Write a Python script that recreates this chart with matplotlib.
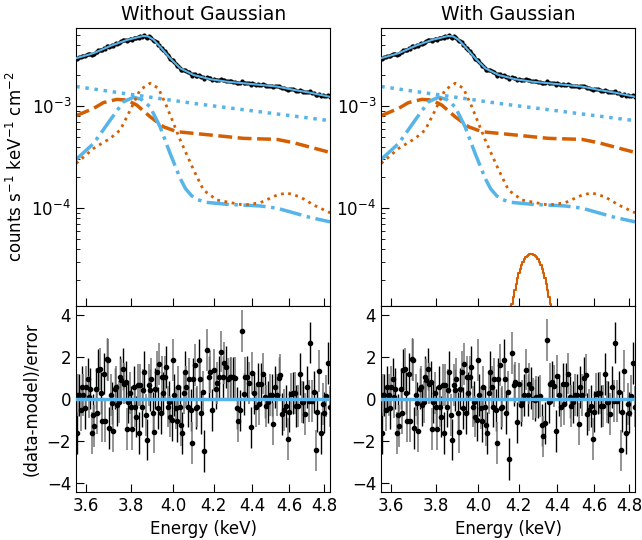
import numpy as np
import matplotlib.pyplot as plt
from matplotlib.ticker import FixedLocator, NullLocator, FormatStrFormatter

plt.rcParams['font.size'] = 12

# model components, energy in keV, flux in counts s^-1 keV^-1 cm^-2
tot_e = [3.558, 3.634, 3.707, 3.782, 3.858, 3.880, 3.906, 3.937, 3.985, 4.034,
         4.100, 4.183, 4.268, 4.355, 4.443, 4.533, 4.625, 4.719, 4.834]
tot_f = [2.94e-3, 3.29e-3, 3.87e-3, 4.43e-3, 4.85e-3, 4.80e-3, 4.45e-3, 3.81e-3,
         2.94e-3, 2.34e-3, 2.01e-3, 1.83e-3, 1.73e-3, 1.67e-3, 1.61e-3, 1.55e-3,
         1.44e-3, 1.35e-3, 1.23e-3]

pl_e = [3.558, 4.100, 4.834]
pl_f = [1.55e-3, 1.06e-3, 7.18e-4]

dash_e = [3.558, 3.634, 3.677, 3.736, 3.782, 3.828, 3.890, 3.953, 4.018, 4.183,
          4.355, 4.533, 4.625, 4.834]
dash_f = [8.04e-4, 9.49e-4, 1.08e-3, 1.16e-3, 1.145e-3, 1.02e-3, 7.85e-4, 6.26e-4,
          5.6e-4, 5.2e-4, 4.82e-4, 4.71e-4, 4.37e-4, 3.51e-4]

dd_e = [3.558, 3.634, 3.707, 3.767, 3.813, 3.850, 3.890, 3.937, 3.985, 4.034,
        4.060, 4.090, 4.120, 4.160, 4.268, 4.443, 4.533, 4.625, 4.719, 4.834]
dd_f = [3.0e-4, 4.31e-4, 7.29e-4, 1.10e-3, 1.22e-3, 1.16e-3, 9.8e-4, 6.26e-4,
        3.43e-4, 1.95e-4, 1.55e-4, 1.32e-4, 1.21e-4, 1.14e-4, 1.09e-4, 1.05e-4,
        1.0e-4, 9.0e-5, 8.1e-5, 7.34e-5]

dot_e = [3.558, 3.634, 3.707, 3.752, 3.798, 3.843, 3.890, 3.929, 3.969, 4.034,
         4.100, 4.149, 4.217, 4.355, 4.443, 4.533, 4.588, 4.662, 4.740, 4.834]
dot_f = [2.74e-4, 3.85e-4, 4.82e-4, 5.82e-4, 9.14e-4, 1.44e-3, 1.67e-3, 1.49e-3,
         9.85e-4, 4.64e-4, 2.36e-4, 1.50e-4, 1.20e-4, 1.07e-4, 1.13e-4, 1.34e-4,
         1.41e-4, 1.29e-4, 1.07e-4, 9.0e-5]

# gaussian line (right column only)
gau_e = [4.160, 4.167, 4.174, 4.181, 4.188, 4.195, 4.202, 4.209, 4.216, 4.223,
         4.230, 4.237, 4.244, 4.251, 4.258, 4.265, 4.272, 4.279, 4.286, 4.293,
         4.300, 4.307, 4.314, 4.321, 4.328, 4.335, 4.342, 4.349, 4.356, 4.363, 4.370]
gau_f = [9.4e-6, 1.14e-5, 1.36e-5, 1.58e-5, 1.82e-5, 2.07e-5, 2.31e-5, 2.55e-5,
         2.78e-5, 2.98e-5, 3.16e-5, 3.31e-5, 3.43e-5, 3.50e-5, 3.54e-5, 3.55e-5,
         3.54e-5, 3.50e-5, 3.43e-5, 3.31e-5, 3.16e-5, 2.98e-5, 2.78e-5, 2.55e-5,
         2.31e-5, 2.07e-5, 1.82e-5, 1.58e-5, 1.36e-5, 1.14e-5, 9.4e-6]

# residuals (data-model)/error, without gaussian
resid_a = [-1.63, 0.19, 0.19, -0.52, 0.58, 0.19, -0.44, 0.58, 0.98, 0.1,
           0.5, -1.63, -0.76, -1.31, 0.5, -0.68, 1.37, 1.45, 0.27, -1.07,
           1.22, -1.07, 1.93, 1.85, -1.39, 0.19, -0.2, -1.55, 0.5, 0.58,
           -0.28, -0.13, 1.06, 0.9, 1.45, 0.74, 0.82, -1.44, -0.13, 0.27,
           -0.36, -1.44, 0.58, -0.36, -0.84, 0.66, -1.63, 0.66, -0.36, 0.43,
           1.3, -0.76, -1.94, 0.66, 0.43, 0.98, -0.68, -1.6, 0.5, 1.3,
           -0.44, 1.69, -0.68, 1.06, 0.27, 1.06, 1.53, -0.36, -0.13, -0.84,
           -1.0, 1.88, 0.19, -0.44, -1.07, 0.58, -0.36, -1.23, -1.63, 0.27,
           1.3, 0.58, -0.36, 0.98, -0.52, -2.1, 0.98, 1.61, -0.44, -0.36,
           1.85, 0.98, -0.68, 0.35, -2.5,
           2.35, 1.06, 1.3, -0.52, 1.37, 0.5, 0.77, 1.06, 2.27, 1.06,
           1.72, 1.53, 0.98, 1.03, 1.03, 1.03, 1.01, -0.44, -1.07, -0.55,
           3.27, 0.24, 1.03, 1.06, 0.77, -1.36, 1.25, 0.3, -0.36, 0.7,
           -0.24, 0.71, 1.22, 0.11, -0.33, -0.13, 0.19, 0.19, -1.18, 0.58,
           0.19, 1.01, 1.14, -0.71, -0.52, -0.32, -1.9, -0.6, 0.24, 0.3,
           0.3, -0.33, -0.32, 1.18, -0.13, -0.13, -0.71, 0.58, -0.09, 2.7,
           -0.09, 0.32, -2.46, -0.6, 1.33, -1.63, -0.25, -0.65, 0.14, 1.72,
           -0.36]

# residuals with gaussian: same except around the line
resid_b = list(resid_a)
changed = {94: -2.86, 95: 2.21, 96: 0.66, 97: 0.79, 98: -1.12, 99: 0.7,
           100: -0.28, 101: -0.09, 102: 0.2, 103: 1.41, 104: 0.2, 105: 0.74,
           106: 0.54, 107: 0.0, 108: -0.05, 109: 0.08, 110: 0.1, 111: 0.16,
           112: -1.23, 113: -1.79, 114: -1.15, 115: 2.84, 116: -0.16, 117: 0.71,
           118: 0.82, 119: 0.62, 120: -1.53, 121: 1.1, 122: 0.2}
for k, v in changed.items():
    resid_b[k] = v

# bin centres
e_bin = np.concatenate([np.geomspace(3.56, 4.152, 95), np.geomspace(4.166, 4.831, 71)])
frac_err = 0.015
model_at_bin = np.exp(np.interp(np.log(e_bin), np.log(tot_e), np.log(tot_f)))
data_f = model_at_bin * (1 + frac_err * np.array(resid_a))

blue = '#56B4E9'
orange = '#D55E00'
xticks = [3.6, 3.8, 4.0, 4.2, 4.4, 4.6, 4.8]

fig = plt.figure(figsize=(6.42, 5.4), dpi=100)
lefts = [0.1184, 0.5935]
width = 0.396
titles = ['Without Gaussian', 'With Gaussian']
resids = [resid_a, resid_b]

for i in range(2):
    ax = fig.add_axes([lefts[i], 0.4333, width, 0.5148])
    axr = fig.add_axes([lefts[i], 0.0889, width, 0.3444])

    ax.plot(pl_e, pl_f, ':', color=blue, lw=2.5)
    ax.plot(dash_e, dash_f, '--', color=orange, lw=2.5, dashes=(4, 1.6))
    ax.plot(dd_e, dd_f, '-.', color=blue, lw=2.5)
    ax.plot(dot_e, dot_f, ':', color=orange, lw=2)
    if i == 1:
        ax.plot(gau_e, gau_f, '-', color=orange, lw=1.5, drawstyle='steps-mid')
    ax.errorbar(e_bin, data_f, yerr=frac_err * data_f, fmt='o', ms=2,
                color='black', elinewidth=0.8, zorder=3)
    ax.plot(tot_e, tot_f, '-', color=blue, lw=1.5, zorder=4)

    ax.set_xscale('log')
    ax.set_yscale('log')
    ax.set_xlim(3.557, 4.835)
    ax.set_ylim(1.1e-5, 5.8e-3)
    ax.xaxis.set_major_locator(FixedLocator(xticks))
    ax.xaxis.set_minor_locator(NullLocator())
    ax.set_xticklabels([])
    ax.tick_params(which='both', direction='in')
    ax.tick_params(which='major', length=6)
    ax.tick_params(which='minor', length=3)
    ax.set_title(titles[i], fontsize=13.5)

    r = np.array(resids[i])
    axr.errorbar(e_bin[0::2], r[0::2], yerr=1, fmt='o', ms=3, color='black',
                 ecolor='black', elinewidth=1)
    axr.errorbar(e_bin[1::2], r[1::2], yerr=1, fmt='o', ms=3, color='black',
                 ecolor='#808080', elinewidth=1.2)
    axr.axhline(0, color=blue, lw=2.5, zorder=5)
    axr.set_xscale('log')
    axr.set_xlim(3.557, 4.835)
    axr.set_ylim(-4.45, 4.45)
    axr.xaxis.set_major_locator(FixedLocator(xticks))
    axr.xaxis.set_minor_locator(NullLocator())
    axr.xaxis.set_major_formatter(FormatStrFormatter('%.1f'))
    axr.set_yticks([-4, -2, 0, 2, 4])
    axr.tick_params(which='both', direction='in', length=6)
    axr.set_xlabel('Energy (keV)')

    if i == 0:
        ax.set_ylabel('counts s$^{-1}$ keV$^{-1}$ cm$^{-2}$')
        axr.set_ylabel('(data-model)/error')

fig.savefig('out.png', dpi=100)
